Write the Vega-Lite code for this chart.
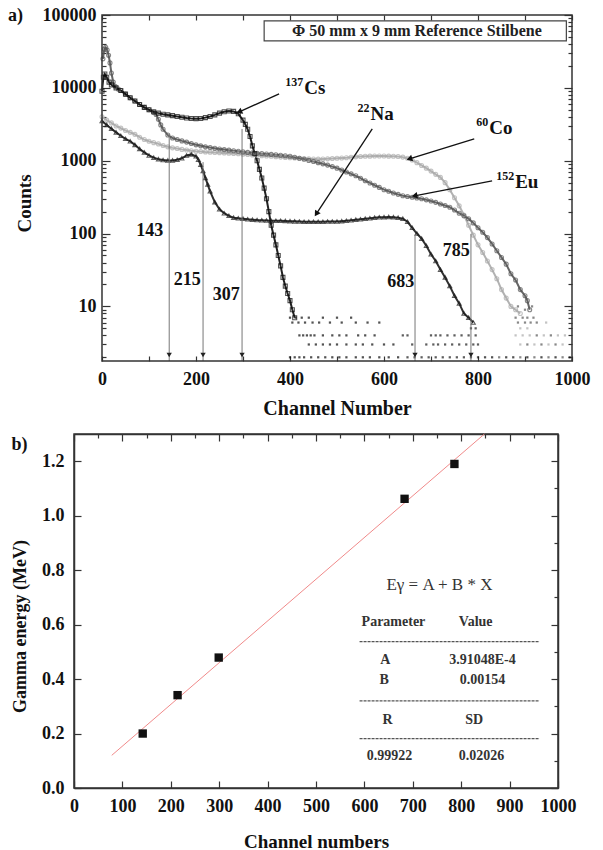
{
"$schema": "https://vega.github.io/schema/vega-lite/v6.json",
"padding": {"left": 8, "top": 6, "right": 2, "bottom": 0},
"background": "white",
"config": {
  "font": "Liberation Serif",
  "view": {"stroke": "#333", "strokeWidth": 1.5},
  "axis": {"grid": false, "domainColor": "#333", "domainWidth": 1.5, "tickColor": "#333", "tickWidth": 1.2,
    "labelFont": "Liberation Serif", "labelFontWeight": "bold", "labelFontSize": 18, "labelColor": "#111",
    "titleFont": "Liberation Serif", "titleFontWeight": "bold", "titleColor": "#111",
    "labelFlush": false, "labelOverlap": false},
  "text": {"font": "Liberation Serif"}
},
"datasets": {
  "spec": [
{"s":"Co","ch":0,"c":4000},{"s":"Co","ch":10,"c":3600},{"s":"Co","ch":20,"c":3300},{"s":"Co","ch":30,"c":3000},{"s":"Co","ch":40,"c":2800},{"s":"Co","ch":50,"c":2600},{"s":"Co","ch":60,"c":2450},{"s":"Co","ch":70,"c":2300},{"s":"Co","ch":80,"c":2100},{"s":"Co","ch":90,"c":1950},{"s":"Co","ch":100,"c":1850},{"s":"Co","ch":110,"c":1770},{"s":"Co","ch":120,"c":1700},{"s":"Co","ch":130,"c":1620},{"s":"Co","ch":140,"c":1550},{"s":"Co","ch":150,"c":1500},{"s":"Co","ch":160,"c":1470},{"s":"Co","ch":170,"c":1430},{"s":"Co","ch":180,"c":1400},{"s":"Co","ch":190,"c":1370},{"s":"Co","ch":200,"c":1350},{"s":"Co","ch":210,"c":1335},{"s":"Co","ch":220,"c":1320},{"s":"Co","ch":230,"c":1310},{"s":"Co","ch":240,"c":1300},{"s":"Co","ch":250,"c":1290},{"s":"Co","ch":260,"c":1280},{"s":"Co","ch":270,"c":1270},{"s":"Co","ch":280,"c":1260},{"s":"Co","ch":290,"c":1245},{"s":"Co","ch":300,"c":1230},{"s":"Co","ch":310,"c":1215},{"s":"Co","ch":320,"c":1200},{"s":"Co","ch":330,"c":1185},{"s":"Co","ch":340,"c":1170},{"s":"Co","ch":350,"c":1160},{"s":"Co","ch":360,"c":1150},{"s":"Co","ch":370,"c":1135},{"s":"Co","ch":380,"c":1120},{"s":"Co","ch":390,"c":1110},{"s":"Co","ch":400,"c":1100},{"s":"Co","ch":410,"c":1090},{"s":"Co","ch":420,"c":1080},{"s":"Co","ch":430,"c":1070},{"s":"Co","ch":440,"c":1060},{"s":"Co","ch":450,"c":1055},{"s":"Co","ch":460,"c":1050},{"s":"Co","ch":470,"c":1055},{"s":"Co","ch":480,"c":1060},{"s":"Co","ch":490,"c":1070},{"s":"Co","ch":500,"c":1080},{"s":"Co","ch":510,"c":1090},{"s":"Co","ch":520,"c":1100},{"s":"Co","ch":530,"c":1115},{"s":"Co","ch":540,"c":1130},{"s":"Co","ch":550,"c":1140},{"s":"Co","ch":560,"c":1150},{"s":"Co","ch":570,"c":1155},{"s":"Co","ch":580,"c":1160},{"s":"Co","ch":590,"c":1160},{"s":"Co","ch":600,"c":1160},{"s":"Co","ch":610,"c":1155},{"s":"Co","ch":620,"c":1150},{"s":"Co","ch":630,"c":1140},{"s":"Co","ch":640,"c":1120},{"s":"Co","ch":650,"c":1080},{"s":"Co","ch":660,"c":1020},{"s":"Co","ch":670,"c":940},{"s":"Co","ch":680,"c":860},{"s":"Co","ch":690,"c":790},{"s":"Co","ch":700,"c":720},{"s":"Co","ch":710,"c":650},{"s":"Co","ch":720,"c":590},{"s":"Co","ch":730,"c":500},{"s":"Co","ch":740,"c":400},{"s":"Co","ch":750,"c":310},{"s":"Co","ch":760,"c":240},{"s":"Co","ch":770,"c":180},{"s":"Co","ch":780,"c":130},{"s":"Co","ch":790,"c":95},{"s":"Co","ch":800,"c":70},{"s":"Co","ch":810,"c":55},{"s":"Co","ch":820,"c":42},{"s":"Co","ch":830,"c":32},{"s":"Co","ch":840,"c":24},{"s":"Co","ch":850,"c":17},{"s":"Co","ch":860,"c":13},{"s":"Co","ch":870,"c":10},{"s":"Co","ch":880,"c":9},{"s":"Co","ch":890,"c":8},
{"s":"Eu","ch":2,"c":25000},{"s":"Eu","ch":5,"c":34000},{"s":"Eu","ch":8,"c":36000},{"s":"Eu","ch":11,"c":33000},{"s":"Eu","ch":14,"c":28000},{"s":"Eu","ch":17,"c":22000},{"s":"Eu","ch":20,"c":16000},{"s":"Eu","ch":24,"c":12000},{"s":"Eu","ch":28,"c":10500},{"s":"Eu","ch":35,"c":9600},{"s":"Eu","ch":40,"c":9200},{"s":"Eu","ch":50,"c":8200},{"s":"Eu","ch":60,"c":7300},{"s":"Eu","ch":70,"c":6600},{"s":"Eu","ch":80,"c":5900},{"s":"Eu","ch":90,"c":5400},{"s":"Eu","ch":100,"c":5000},{"s":"Eu","ch":110,"c":4600},{"s":"Eu","ch":115,"c":4300},{"s":"Eu","ch":120,"c":3700},{"s":"Eu","ch":125,"c":3100},{"s":"Eu","ch":130,"c":2700},{"s":"Eu","ch":140,"c":2250},{"s":"Eu","ch":150,"c":2050},{"s":"Eu","ch":160,"c":1950},{"s":"Eu","ch":170,"c":1870},{"s":"Eu","ch":180,"c":1800},{"s":"Eu","ch":190,"c":1720},{"s":"Eu","ch":200,"c":1650},{"s":"Eu","ch":210,"c":1600},{"s":"Eu","ch":220,"c":1550},{"s":"Eu","ch":230,"c":1515},{"s":"Eu","ch":240,"c":1480},{"s":"Eu","ch":250,"c":1450},{"s":"Eu","ch":260,"c":1420},{"s":"Eu","ch":270,"c":1395},{"s":"Eu","ch":280,"c":1370},{"s":"Eu","ch":290,"c":1345},{"s":"Eu","ch":300,"c":1320},{"s":"Eu","ch":310,"c":1300},{"s":"Eu","ch":320,"c":1280},{"s":"Eu","ch":330,"c":1265},{"s":"Eu","ch":340,"c":1250},{"s":"Eu","ch":350,"c":1235},{"s":"Eu","ch":360,"c":1220},{"s":"Eu","ch":370,"c":1205},{"s":"Eu","ch":380,"c":1190},{"s":"Eu","ch":390,"c":1170},{"s":"Eu","ch":400,"c":1150},{"s":"Eu","ch":410,"c":1115},{"s":"Eu","ch":420,"c":1080},{"s":"Eu","ch":430,"c":1045},{"s":"Eu","ch":440,"c":1010},{"s":"Eu","ch":450,"c":975},{"s":"Eu","ch":460,"c":940},{"s":"Eu","ch":470,"c":905},{"s":"Eu","ch":480,"c":870},{"s":"Eu","ch":490,"c":830},{"s":"Eu","ch":500,"c":790},{"s":"Eu","ch":510,"c":745},{"s":"Eu","ch":520,"c":700},{"s":"Eu","ch":530,"c":660},{"s":"Eu","ch":540,"c":620},{"s":"Eu","ch":550,"c":575},{"s":"Eu","ch":560,"c":530},{"s":"Eu","ch":570,"c":495},{"s":"Eu","ch":580,"c":460},{"s":"Eu","ch":590,"c":430},{"s":"Eu","ch":600,"c":400},{"s":"Eu","ch":610,"c":380},{"s":"Eu","ch":620,"c":360},{"s":"Eu","ch":630,"c":345},{"s":"Eu","ch":640,"c":330},{"s":"Eu","ch":650,"c":322},{"s":"Eu","ch":660,"c":315},{"s":"Eu","ch":670,"c":308},{"s":"Eu","ch":680,"c":300},{"s":"Eu","ch":690,"c":290},{"s":"Eu","ch":700,"c":280},{"s":"Eu","ch":710,"c":268},{"s":"Eu","ch":720,"c":255},{"s":"Eu","ch":730,"c":243},{"s":"Eu","ch":740,"c":230},{"s":"Eu","ch":750,"c":210},{"s":"Eu","ch":760,"c":190},{"s":"Eu","ch":770,"c":175},{"s":"Eu","ch":780,"c":160},{"s":"Eu","ch":790,"c":140},{"s":"Eu","ch":800,"c":120},{"s":"Eu","ch":810,"c":104},{"s":"Eu","ch":820,"c":88},{"s":"Eu","ch":830,"c":72},{"s":"Eu","ch":840,"c":58},{"s":"Eu","ch":850,"c":47},{"s":"Eu","ch":860,"c":38},{"s":"Eu","ch":870,"c":28},{"s":"Eu","ch":880,"c":23},{"s":"Eu","ch":890,"c":17},{"s":"Eu","ch":900,"c":14},{"s":"Eu","ch":905,"c":12},{"s":"Eu","ch":910,"c":9},
{"s":"Na","ch":0,"c":3500},{"s":"Na","ch":10,"c":3100},{"s":"Na","ch":20,"c":2750},{"s":"Na","ch":30,"c":2450},{"s":"Na","ch":40,"c":2200},{"s":"Na","ch":50,"c":2000},{"s":"Na","ch":60,"c":1850},{"s":"Na","ch":70,"c":1650},{"s":"Na","ch":80,"c":1450},{"s":"Na","ch":90,"c":1300},{"s":"Na","ch":100,"c":1180},{"s":"Na","ch":110,"c":1100},{"s":"Na","ch":120,"c":1050},{"s":"Na","ch":130,"c":1020},{"s":"Na","ch":140,"c":1010},{"s":"Na","ch":150,"c":1010},{"s":"Na","ch":160,"c":1030},{"s":"Na","ch":170,"c":1080},{"s":"Na","ch":180,"c":1180},{"s":"Na","ch":190,"c":1220},{"s":"Na","ch":200,"c":1150},{"s":"Na","ch":205,"c":1030},{"s":"Na","ch":210,"c":880},{"s":"Na","ch":215,"c":720},{"s":"Na","ch":220,"c":580},{"s":"Na","ch":225,"c":470},{"s":"Na","ch":230,"c":380},{"s":"Na","ch":240,"c":270},{"s":"Na","ch":250,"c":215},{"s":"Na","ch":260,"c":190},{"s":"Na","ch":270,"c":175},{"s":"Na","ch":280,"c":165},{"s":"Na","ch":290,"c":162},{"s":"Na","ch":300,"c":160},{"s":"Na","ch":310,"c":157},{"s":"Na","ch":320,"c":155},{"s":"Na","ch":330,"c":153},{"s":"Na","ch":340,"c":152},{"s":"Na","ch":350,"c":151},{"s":"Na","ch":360,"c":150},{"s":"Na","ch":370,"c":150},{"s":"Na","ch":380,"c":150},{"s":"Na","ch":390,"c":149},{"s":"Na","ch":400,"c":148},{"s":"Na","ch":410,"c":147},{"s":"Na","ch":420,"c":146},{"s":"Na","ch":430,"c":145},{"s":"Na","ch":440,"c":145},{"s":"Na","ch":450,"c":145},{"s":"Na","ch":460,"c":145},{"s":"Na","ch":470,"c":145},{"s":"Na","ch":480,"c":146},{"s":"Na","ch":490,"c":146},{"s":"Na","ch":500,"c":146},{"s":"Na","ch":510,"c":148},{"s":"Na","ch":520,"c":150},{"s":"Na","ch":530,"c":152},{"s":"Na","ch":540,"c":155},{"s":"Na","ch":550,"c":157},{"s":"Na","ch":560,"c":160},{"s":"Na","ch":570,"c":162},{"s":"Na","ch":580,"c":165},{"s":"Na","ch":590,"c":167},{"s":"Na","ch":600,"c":168},{"s":"Na","ch":610,"c":169},{"s":"Na","ch":620,"c":168},{"s":"Na","ch":630,"c":165},{"s":"Na","ch":640,"c":160},{"s":"Na","ch":650,"c":145},{"s":"Na","ch":660,"c":120},{"s":"Na","ch":670,"c":100},{"s":"Na","ch":680,"c":85},{"s":"Na","ch":690,"c":68},{"s":"Na","ch":700,"c":52},{"s":"Na","ch":710,"c":42},{"s":"Na","ch":720,"c":32},{"s":"Na","ch":730,"c":25},{"s":"Na","ch":740,"c":19},{"s":"Na","ch":750,"c":14},{"s":"Na","ch":760,"c":11},{"s":"Na","ch":770,"c":8},{"s":"Na","ch":780,"c":7},{"s":"Na","ch":790,"c":6},
{"s":"Cs","ch":0,"c":9000},{"s":"Cs","ch":3,"c":14000},{"s":"Cs","ch":6,"c":15500},{"s":"Cs","ch":10,"c":14000},{"s":"Cs","ch":15,"c":12000},{"s":"Cs","ch":20,"c":11000},{"s":"Cs","ch":30,"c":10000},{"s":"Cs","ch":40,"c":9200},{"s":"Cs","ch":50,"c":8200},{"s":"Cs","ch":60,"c":7300},{"s":"Cs","ch":70,"c":6600},{"s":"Cs","ch":80,"c":5900},{"s":"Cs","ch":90,"c":5400},{"s":"Cs","ch":100,"c":5000},{"s":"Cs","ch":110,"c":4700},{"s":"Cs","ch":120,"c":4500},{"s":"Cs","ch":130,"c":4350},{"s":"Cs","ch":140,"c":4250},{"s":"Cs","ch":150,"c":4150},{"s":"Cs","ch":160,"c":4050},{"s":"Cs","ch":170,"c":3950},{"s":"Cs","ch":180,"c":3850},{"s":"Cs","ch":190,"c":3800},{"s":"Cs","ch":200,"c":3780},{"s":"Cs","ch":210,"c":3800},{"s":"Cs","ch":220,"c":3900},{"s":"Cs","ch":230,"c":4050},{"s":"Cs","ch":240,"c":4250},{"s":"Cs","ch":250,"c":4500},{"s":"Cs","ch":260,"c":4700},{"s":"Cs","ch":270,"c":4800},{"s":"Cs","ch":280,"c":4750},{"s":"Cs","ch":290,"c":4400},{"s":"Cs","ch":300,"c":3600},{"s":"Cs","ch":305,"c":3150},{"s":"Cs","ch":310,"c":2700},{"s":"Cs","ch":315,"c":2150},{"s":"Cs","ch":320,"c":1600},{"s":"Cs","ch":325,"c":1250},{"s":"Cs","ch":330,"c":1000},{"s":"Cs","ch":335,"c":760},{"s":"Cs","ch":340,"c":580},{"s":"Cs","ch":345,"c":420},{"s":"Cs","ch":350,"c":300},{"s":"Cs","ch":355,"c":200},{"s":"Cs","ch":360,"c":130},{"s":"Cs","ch":365,"c":95},{"s":"Cs","ch":370,"c":70},{"s":"Cs","ch":375,"c":50},{"s":"Cs","ch":380,"c":36},{"s":"Cs","ch":385,"c":25},{"s":"Cs","ch":390,"c":19},{"s":"Cs","ch":395,"c":15},{"s":"Cs","ch":400,"c":12},{"s":"Cs","ch":405,"c":9},{"s":"Cs","ch":410,"c":7}
  ],
  "tails": [
{"s":"Cs","ch":400,"c":7},{"s":"Cs","ch":412,"c":7},{"s":"Cs","ch":425,"c":7},{"s":"Cs","ch":440,"c":7},{"s":"Cs","ch":470,"c":7},{"s":"Cs","ch":500,"c":7},{"s":"Cs","ch":530,"c":7},
{"s":"Cs","ch":405,"c":6},{"s":"Cs","ch":418,"c":6},{"s":"Cs","ch":432,"c":6},{"s":"Cs","ch":448,"c":6},{"s":"Cs","ch":462,"c":6},{"s":"Cs","ch":485,"c":6},{"s":"Cs","ch":510,"c":6},{"s":"Cs","ch":540,"c":6},{"s":"Cs","ch":565,"c":6},{"s":"Cs","ch":590,"c":6},
{"s":"Cs","ch":420,"c":4},{"s":"Cs","ch":428,"c":4},{"s":"Cs","ch":436,"c":4},{"s":"Cs","ch":444,"c":4},{"s":"Cs","ch":452,"c":4},{"s":"Cs","ch":470,"c":4},{"s":"Cs","ch":490,"c":4},{"s":"Cs","ch":505,"c":4},{"s":"Cs","ch":520,"c":4},{"s":"Cs","ch":545,"c":4},{"s":"Cs","ch":560,"c":4},{"s":"Cs","ch":580,"c":4},
{"s":"Cs","ch":440,"c":3},{"s":"Cs","ch":455,"c":3},{"s":"Cs","ch":470,"c":3},{"s":"Cs","ch":485,"c":3},{"s":"Cs","ch":500,"c":3},{"s":"Cs","ch":520,"c":3},{"s":"Cs","ch":540,"c":3},{"s":"Cs","ch":555,"c":3},{"s":"Cs","ch":575,"c":3},{"s":"Cs","ch":600,"c":3},{"s":"Cs","ch":620,"c":3},
{"s":"Cs","ch":400,"c":2},{"s":"Cs","ch":410,"c":2},{"s":"Cs","ch":420,"c":2},{"s":"Cs","ch":430,"c":2},{"s":"Cs","ch":445,"c":2},{"s":"Cs","ch":460,"c":2},{"s":"Cs","ch":475,"c":2},{"s":"Cs","ch":490,"c":2},{"s":"Cs","ch":505,"c":2},{"s":"Cs","ch":520,"c":2},{"s":"Cs","ch":540,"c":2},{"s":"Cs","ch":555,"c":2},{"s":"Cs","ch":570,"c":2},{"s":"Cs","ch":590,"c":2},{"s":"Cs","ch":610,"c":2},{"s":"Cs","ch":630,"c":2},
{"s":"Na","ch":640,"c":4},{"s":"Na","ch":650,"c":4},{"s":"Na","ch":700,"c":4},{"s":"Na","ch":710,"c":4},{"s":"Na","ch":720,"c":4},{"s":"Na","ch":735,"c":4},{"s":"Na","ch":750,"c":4},{"s":"Na","ch":765,"c":4},{"s":"Na","ch":780,"c":4},{"s":"Na","ch":795,"c":4},
{"s":"Na","ch":660,"c":3},{"s":"Na","ch":690,"c":3},{"s":"Na","ch":705,"c":3},{"s":"Na","ch":715,"c":3},{"s":"Na","ch":730,"c":3},{"s":"Na","ch":745,"c":3},{"s":"Na","ch":760,"c":3},{"s":"Na","ch":775,"c":3},{"s":"Na","ch":790,"c":3},{"s":"Na","ch":800,"c":3},
{"s":"Na","ch":650,"c":2},{"s":"Na","ch":665,"c":2},{"s":"Na","ch":680,"c":2},{"s":"Na","ch":695,"c":2},{"s":"Na","ch":710,"c":2},{"s":"Na","ch":725,"c":2},{"s":"Na","ch":740,"c":2},{"s":"Na","ch":755,"c":2},{"s":"Na","ch":770,"c":2},{"s":"Na","ch":785,"c":2},{"s":"Na","ch":800,"c":2},
{"s":"Na","ch":785,"c":5},{"s":"Na","ch":795,"c":5},
{"s":"Eu","ch":885,"c":10},{"s":"Eu","ch":900,"c":9},{"s":"Eu","ch":915,"c":10},
{"s":"Eu","ch":880,"c":7},{"s":"Eu","ch":895,"c":7},{"s":"Eu","ch":905,"c":7},{"s":"Eu","ch":918,"c":7},
{"s":"Eu","ch":885,"c":6},{"s":"Eu","ch":900,"c":6},{"s":"Eu","ch":912,"c":6},{"s":"Eu","ch":925,"c":6},{"s":"Co","ch":945,"c":6},
{"s":"Co","ch":890,"c":5},{"s":"Co","ch":905,"c":5},
{"s":"Co","ch":880,"c":4},{"s":"Co","ch":895,"c":4},{"s":"Co","ch":910,"c":4},{"s":"Eu","ch":925,"c":4},{"s":"Co","ch":940,"c":4},{"s":"Eu","ch":955,"c":4},{"s":"Co","ch":970,"c":4},{"s":"Co","ch":985,"c":4},
{"s":"Co","ch":890,"c":3},{"s":"Eu","ch":905,"c":3},{"s":"Co","ch":920,"c":3},{"s":"Eu","ch":935,"c":3},{"s":"Co","ch":950,"c":3},{"s":"Eu","ch":965,"c":3},{"s":"Co","ch":980,"c":3},
{"s":"Cs","ch":815,"c":2},{"s":"Cs","ch":830,"c":2},{"s":"Eu","ch":845,"c":2},{"s":"Cs","ch":860,"c":2},{"s":"Cs","ch":875,"c":2},{"s":"Eu","ch":890,"c":2},{"s":"Cs","ch":905,"c":2},{"s":"Eu","ch":920,"c":2},{"s":"Cs","ch":935,"c":2},{"s":"Eu","ch":950,"c":2},{"s":"Cs","ch":965,"c":2},{"s":"Eu","ch":980,"c":2},{"s":"Cs","ch":995,"c":2}
  ],
  "vlines": [{"ch":143,"top":2333},{"ch":215,"top":957},{"ch":298,"top":2728},{"ch":666,"top":94},{"ch":785,"top":99}],
  "nums": [{"t":"143","ch":101.7,"c":109},{"t":"215","ch":181.5,"c":23.2},{"t":"307","ch":264.5,"c":14.4},{"t":"683","ch":635.7,"c":21.8},{"t":"785","ch":753.8,"c":57.9}],
  "arrows": [{"n":"Cs","ch":376.8,"c":8280,"ch2":292,"c2":4680},{"n":"Na","ch":575,"c":2728,"ch2":456,"c2":186},{"n":"Co","ch":792,"c":1996,"ch2":654,"c2":1059},{"n":"Eu","ch":830,"c":528,"ch2":665,"c2":330}],
  "iso": [{"sup":"137","el":"Cs","ch":428,"c":9900},{"sup":"22","el":"Na","ch":569,"c":4380},{"sup":"60","el":"Co","ch":822,"c":2820},{"sup":"152","el":"Eu","ch":877,"c":514}],
  "box": [{"ch":345,"ch2":988,"c":44000,"c2":82800,"t":"Φ 50 mm x 9 mm Reference Stilbene","tch":670,"tc":60400}],
  "cal": [{"ch":142,"e":0.2},{"ch":214,"e":0.341},{"ch":299,"e":0.479},{"ch":683,"e":1.062},{"ch":786,"e":1.19}],
  "fit": [{"ch":78,"e":0.12},{"ch":848,"e":1.3}],
  "inset": [{"t":"Parameter","ch":660,"e":0.609},{"t":"Value","ch":830,"e":0.609},{"t":"A","ch":643,"e":0.471},{"t":"3.91048E-4","ch":844,"e":0.471},{"t":"B","ch":641,"e":0.398},{"t":"0.00154","ch":844,"e":0.398},{"t":"R","ch":648,"e":0.251},{"t":"SD","ch":827,"e":0.251},{"t":"0.99922","ch":652,"e":0.118},{"t":"0.02026","ch":842,"e":0.118}],
  "dashes": [{"ch":590,"ch2":962,"e":0.5375},{"ch":590,"ch2":962,"e":0.32},{"ch":590,"ch2":962,"e":0.181}]
},
"vconcat": [
{
  "width": 498, "height": 346,
  "view": {"stroke": null},
  "title": {"text": "a)", "anchor": "start", "frame": "bounds", "orient": "top", "offset": -19, "dx": -7, "fontSize": 18, "fontWeight": "bold", "font": "Liberation Serif", "color": "#111"},
  "layer": [
    {"layer": [
      {"data": {"name": "spec"}, "mark": {"type": "line", "strokeWidth": 2, "opacity": 0.9},
       "encoding": {
         "x": {"field": "ch", "type": "quantitative", "scale": {"domain": [-59.57, 1000], "nice": false, "zero": false},
               "axis": {"title": "Channel Number", "titleFontSize": 20, "titlePadding": 10, "titleX": 263, "domain": false, "format": "d", "values": [0,100,200,300,400,500,600,700,800,900,1000], "labelExpr": "datum.value % 200 === 0 ? datum.label : ''", "tickSize": -5, "labelPadding": 14}},
         "y": {"field": "c", "type": "quantitative", "scale": {"type": "log", "domain": [1.78, 100000], "nice": false},
               "axis": {"title": "Counts", "titleFontSize": 19, "titlePadding": 8, "titleY": 188, "offset": -28, "domain": false, "format": "d", "values": [2,3,4,5,6,7,8,9,10,20,30,40,50,60,70,80,90,100,200,300,400,500,600,700,800,900,1000,2000,3000,4000,5000,6000,7000,8000,9000,10000,20000,30000,40000,50000,60000,70000,80000,90000,100000], "labelExpr": "indexof([10,100,1000,10000,100000], datum.value) >= 0 ? datum.label : ''", "tickSize": {"condition": {"test": "indexof([10,100,1000,10000,100000], datum.value) >= 0", "value": -8}, "value": -4}, "labelPadding": 14}},
         "color": {"field": "s", "type": "nominal", "scale": {"domain": ["Co","Eu","Na","Cs"], "range": ["#aaaaaa","#555555","#1a1a1a","#0a0a0a"]}, "legend": null}
       }},
      {"data": {"name": "spec"}, "mark": {"type": "point", "filled": false, "size": 16, "strokeWidth": 1.1},
       "encoding": {
         "x": {"field": "ch", "type": "quantitative", "scale": {"domain": [-59.57, 1000], "nice": false, "zero": false}},
         "y": {"field": "c", "type": "quantitative", "scale": {"type": "log", "domain": [1.78, 100000], "nice": false}},
         "color": {"field": "s", "type": "nominal", "scale": {"domain": ["Co","Eu","Na","Cs"], "range": ["#aaaaaa","#555555","#1a1a1a","#0a0a0a"]}, "legend": null},
         "shape": {"field": "s", "type": "nominal", "scale": {"domain": ["Co","Eu","Na","Cs"], "range": ["circle","circle","triangle-up","square"]}, "legend": null}
       }},
      {"data": {"name": "tails"}, "mark": {"type": "point", "filled": true, "shape": "square", "size": 5},
       "encoding": {
         "x": {"field": "ch", "type": "quantitative", "scale": {"domain": [-59.57, 1000], "nice": false, "zero": false}},
         "y": {"field": "c", "type": "quantitative", "scale": {"type": "log", "domain": [1.78, 100000], "nice": false}},
         "color": {"field": "s", "type": "nominal", "scale": {"domain": ["Co","Eu","Na","Cs"], "range": ["#aaaaaa","#555555","#1a1a1a","#0a0a0a"]}, "legend": null}
       }},
      {"data": {"name": "vlines"}, "mark": {"type": "rule", "color": "#777", "strokeWidth": 1},
       "encoding": {
         "x": {"field": "ch", "type": "quantitative", "scale": {"domain": [-59.57, 1000], "nice": false, "zero": false}},
         "y": {"field": "top", "type": "quantitative", "scale": {"type": "log", "domain": [1.78, 100000], "nice": false}},
         "y2": {"datum": 1.78}
       }},
      {"data": {"name": "vlines"}, "mark": {"type": "point", "shape": "triangle-down", "filled": true, "size": 28, "color": "#222", "opacity": 1},
       "encoding": {
         "x": {"field": "ch", "type": "quantitative", "scale": {"domain": [-59.57, 1000], "nice": false, "zero": false}},
         "y": {"datum": 2.15, "type": "quantitative", "scale": {"type": "log", "domain": [1.78, 100000], "nice": false}}
       }},
      {"data": {"name": "nums"}, "mark": {"type": "text", "fontSize": 18, "fontWeight": "bold", "color": "#111", "align": "center", "baseline": "middle"},
       "encoding": {
         "x": {"field": "ch", "type": "quantitative", "scale": {"domain": [-59.57, 1000], "nice": false, "zero": false}},
         "y": {"field": "c", "type": "quantitative", "scale": {"type": "log", "domain": [1.78, 100000], "nice": false}},
         "text": {"field": "t"}
       }},
      {"data": {"name": "arrows"}, "mark": {"type": "rule", "color": "#111", "strokeWidth": 1.3},
       "encoding": {
         "x": {"field": "ch", "type": "quantitative", "scale": {"domain": [-59.57, 1000], "nice": false, "zero": false}},
         "y": {"field": "c", "type": "quantitative", "scale": {"type": "log", "domain": [1.78, 100000], "nice": false}},
         "x2": {"field": "ch2"}, "y2": {"field": "c2"}
       }},
      {"data": {"name": "arrows"}, "transform": [{"filter": "datum.n === 'Cs'"}], "mark": {"type": "point", "shape": "triangle-up", "filled": true, "size": 45, "color": "#111", "opacity": 1, "angle": 246},
       "encoding": {"x": {"field": "ch2", "type": "quantitative", "scale": {"domain": [-59.57, 1000], "nice": false, "zero": false}}, "y": {"field": "c2", "type": "quantitative", "scale": {"type": "log", "domain": [1.78, 100000], "nice": false}}}},
      {"data": {"name": "arrows"}, "transform": [{"filter": "datum.n === 'Na'"}], "mark": {"type": "point", "shape": "triangle-up", "filled": true, "size": 45, "color": "#111", "opacity": 1, "angle": 213},
       "encoding": {"x": {"field": "ch2", "type": "quantitative", "scale": {"domain": [-59.57, 1000], "nice": false, "zero": false}}, "y": {"field": "c2", "type": "quantitative", "scale": {"type": "log", "domain": [1.78, 100000], "nice": false}}}},
      {"data": {"name": "arrows"}, "transform": [{"filter": "datum.n === 'Co'"}], "mark": {"type": "point", "shape": "triangle-up", "filled": true, "size": 45, "color": "#111", "opacity": 1, "angle": 253},
       "encoding": {"x": {"field": "ch2", "type": "quantitative", "scale": {"domain": [-59.57, 1000], "nice": false, "zero": false}}, "y": {"field": "c2", "type": "quantitative", "scale": {"type": "log", "domain": [1.78, 100000], "nice": false}}}},
      {"data": {"name": "arrows"}, "transform": [{"filter": "datum.n === 'Eu'"}], "mark": {"type": "point", "shape": "triangle-up", "filled": true, "size": 45, "color": "#111", "opacity": 1, "angle": 259},
       "encoding": {"x": {"field": "ch2", "type": "quantitative", "scale": {"domain": [-59.57, 1000], "nice": false, "zero": false}}, "y": {"field": "c2", "type": "quantitative", "scale": {"type": "log", "domain": [1.78, 100000], "nice": false}}}},
      {"data": {"name": "iso"}, "mark": {"type": "text", "fontSize": 12, "fontWeight": "bold", "color": "#111", "align": "right", "baseline": "middle", "dy": -6},
       "encoding": {
         "x": {"field": "ch", "type": "quantitative", "scale": {"domain": [-59.57, 1000], "nice": false, "zero": false}},
         "y": {"field": "c", "type": "quantitative", "scale": {"type": "log", "domain": [1.78, 100000], "nice": false}},
         "text": {"field": "sup"}
       }},
      {"data": {"name": "iso"}, "mark": {"type": "text", "fontSize": 19, "fontWeight": "bold", "color": "#111", "align": "left", "baseline": "middle", "dx": 1},
       "encoding": {
         "x": {"field": "ch", "type": "quantitative", "scale": {"domain": [-59.57, 1000], "nice": false, "zero": false}},
         "y": {"field": "c", "type": "quantitative", "scale": {"type": "log", "domain": [1.78, 100000], "nice": false}},
         "text": {"field": "el"}
       }},
      {"data": {"name": "box"}, "mark": {"type": "rect", "fill": "white", "stroke": "#444", "strokeWidth": 1.2},
       "encoding": {
         "x": {"field": "ch", "type": "quantitative", "scale": {"domain": [-59.57, 1000], "nice": false, "zero": false}},
         "x2": {"field": "ch2"},
         "y": {"field": "c", "type": "quantitative", "scale": {"type": "log", "domain": [1.78, 100000], "nice": false}},
         "y2": {"field": "c2"}
       }},
      {"data": {"name": "box"}, "mark": {"type": "text", "fontSize": 16, "fontWeight": "bold", "color": "#222", "align": "center", "baseline": "middle"},
       "encoding": {
         "x": {"field": "tch", "type": "quantitative", "scale": {"domain": [-59.57, 1000], "nice": false, "zero": false}},
         "y": {"field": "tc", "type": "quantitative", "scale": {"type": "log", "domain": [1.78, 100000], "nice": false}},
         "text": {"field": "t"}
       }},
      {"data": {"values": [{}]}, "mark": {"type": "rect", "fill": "transparent", "stroke": "#333", "strokeWidth": 1.5},
       "encoding": {
         "x": {"datum": 0, "type": "quantitative", "scale": {"domain": [-59.57, 1000], "nice": false, "zero": false}},
         "x2": {"datum": 1000},
         "y": {"datum": 1.78, "type": "quantitative", "scale": {"type": "log", "domain": [1.78, 100000], "nice": false}},
         "y2": {"datum": 100000}
       }}
    ]},
    {"data": {"name": "vlines"}, "mark": {"type": "point", "opacity": 0},
     "encoding": {
       "x": {"field": "ch", "type": "quantitative", "scale": {"domain": [-59.57, 1000], "nice": false, "zero": false},
             "axis": {"orient": "top", "labels": false, "title": null, "domain": false, "values": [0,100,200,300,400,500,600,700,800,900,1000], "tickSize": -5}},
       "y": {"field": "top", "type": "quantitative", "scale": {"type": "log", "domain": [1.78, 100000], "nice": false},
             "axis": {"orient": "right", "labels": false, "title": null, "domain": false, "values": [2,3,4,5,6,7,8,9,10,20,30,40,50,60,70,80,90,100,200,300,400,500,600,700,800,900,1000,2000,3000,4000,5000,6000,7000,8000,9000,10000,20000,30000,40000,50000,60000,70000,80000,90000,100000], "tickSize": {"condition": {"test": "indexof([10,100,1000,10000,100000], datum.value) >= 0", "value": -8}, "value": -4}}}
     }}
  ],
  "resolve": {"axis": {"x": "independent", "y": "independent"}}
},
{
  "width": 484, "height": 354,
  "title": {"text": "b)", "anchor": "start", "frame": "bounds", "orient": "top", "offset": -22, "dx": 0, "fontSize": 18, "fontWeight": "bold", "font": "Liberation Serif", "color": "#111"},
  "layer": [
    {"layer": [
      {"data": {"name": "fit"}, "mark": {"type": "line", "color": "#f08a8a", "strokeWidth": 1},
       "encoding": {
         "x": {"field": "ch", "type": "quantitative", "scale": {"domain": [0, 1000], "nice": false},
               "axis": {"title": "Channel numbers", "titleFontSize": 19, "titlePadding": 17, "format": "d", "values": [0,50,100,150,200,250,300,350,400,450,500,550,600,650,700,750,800,850,900,950,1000], "labelExpr": "datum.value % 100 === 0 ? datum.label : ''", "tickSize": {"condition": {"test": "datum.value % 100 === 0", "value": -7}, "value": -4}, "labelPadding": 16}},
         "y": {"field": "e", "type": "quantitative", "scale": {"domain": [0, 1.3], "nice": false},
               "axis": {"title": "Gamma energy (MeV)", "titleFontSize": 18, "titlePadding": 12, "titleY": 192, "format": ".1f", "values": [0,0.1,0.2,0.3,0.4,0.5,0.6,0.7,0.8,0.9,1,1.1,1.2], "labelExpr": "indexof([0,0.2,0.4,0.6,0.8,1,1.2], datum.value) >= 0 ? datum.label : ''", "tickSize": {"condition": {"test": "indexof([0,0.2,0.4,0.6,0.8,1,1.2], datum.value) >= 0", "value": -7}, "value": -4}, "labelPadding": 17}}
       }},
      {"data": {"name": "cal"}, "mark": {"type": "square", "size": 70, "color": "#111", "opacity": 1},
       "encoding": {
         "x": {"field": "ch", "type": "quantitative", "scale": {"domain": [0, 1000], "nice": false}},
         "y": {"field": "e", "type": "quantitative", "scale": {"domain": [0, 1.3], "nice": false}}
       }},
      {"data": {"values": [{"t": "Eγ = A + B * X", "ch": 755, "e": 0.747}]}, "mark": {"type": "text", "fontSize": 17, "color": "#333", "align": "center", "baseline": "middle"},
       "encoding": {
         "x": {"field": "ch", "type": "quantitative", "scale": {"domain": [0, 1000], "nice": false}},
         "y": {"field": "e", "type": "quantitative", "scale": {"domain": [0, 1.3], "nice": false}},
         "text": {"field": "t"}
       }},
      {"data": {"name": "inset"}, "mark": {"type": "text", "fontSize": 14, "fontWeight": "bold", "color": "#333", "align": "center", "baseline": "middle"},
       "encoding": {
         "x": {"field": "ch", "type": "quantitative", "scale": {"domain": [0, 1000], "nice": false}},
         "y": {"field": "e", "type": "quantitative", "scale": {"domain": [0, 1.3], "nice": false}},
         "text": {"field": "t"}
       }},
      {"data": {"name": "dashes"}, "mark": {"type": "rule", "color": "#555", "strokeWidth": 1.2, "strokeDash": [3, 1]},
       "encoding": {
         "x": {"field": "ch", "type": "quantitative", "scale": {"domain": [0, 1000], "nice": false}},
         "x2": {"field": "ch2"},
         "y": {"field": "e", "type": "quantitative", "scale": {"domain": [0, 1.3], "nice": false}}
       }}
    ]},
    {"data": {"name": "cal"}, "mark": {"type": "point", "opacity": 0},
     "encoding": {
       "x": {"field": "ch", "type": "quantitative", "scale": {"domain": [0, 1000], "nice": false},
             "axis": {"orient": "top", "labels": false, "title": null, "values": [0,50,100,150,200,250,300,350,400,450,500,550,600,650,700,750,800,850,900,950,1000], "tickSize": {"condition": {"test": "datum.value % 100 === 0", "value": -7}, "value": -4}}},
       "y": {"field": "e", "type": "quantitative", "scale": {"domain": [0, 1.3], "nice": false},
             "axis": {"orient": "right", "labels": false, "title": null, "values": [0,0.1,0.2,0.3,0.4,0.5,0.6,0.7,0.8,0.9,1,1.1,1.2], "tickSize": {"condition": {"test": "indexof([0,0.2,0.4,0.6,0.8,1,1.2], datum.value) >= 0", "value": -7}, "value": -4}}}
     }}
  ],
  "resolve": {"axis": {"x": "independent", "y": "independent"}}
}
],
"spacing": 13
}
